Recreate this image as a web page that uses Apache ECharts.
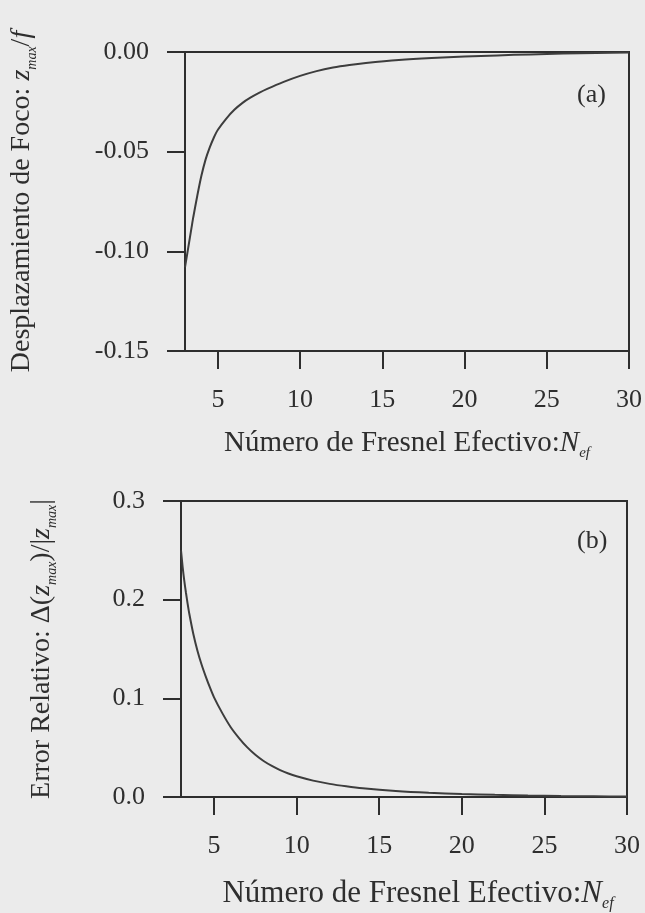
<!DOCTYPE html>
<html>
<head>
<meta charset="utf-8">
<script src="https://cdn.jsdelivr.net/npm/echarts@6/dist/echarts.min.js"></script>
<style>
html,body{margin:0;padding:0;background:#ebebeb;}
#c{width:645px;height:913px;}
</style>
</head>
<body>
<div id="c"></div>
<script>
// Panel (a): focal shift z_max/f vs effective Fresnel number
var xA = [3.0, 3.1, 3.2, 3.3, 3.4, 3.5, 3.75, 4.0, 4.25, 4.5, 4.75, 5, 5.5, 6, 6.5, 7, 7.5, 8, 9, 10, 11, 12, 13, 14, 16, 18, 20, 22, 24, 26, 28, 30];
var yA = [-0.108, -0.103, -0.098, -0.093, -0.088, -0.083, -0.072, -0.062, -0.054, -0.048, -0.043, -0.039, -0.0335, -0.029, -0.0255, -0.0228, -0.0205, -0.0185, -0.0150, -0.0120, -0.0096, -0.0078, -0.0065, -0.0055, -0.0040, -0.0030, -0.0023, -0.0017, -0.0012, -0.0008, -0.0005, -0.0003];
// Panel (b): relative error vs effective Fresnel number
var xB = [3.0, 3.1, 3.2, 3.3, 3.4, 3.5, 3.75, 4.0, 4.25, 4.5, 4.75, 5, 5.5, 6, 6.5, 7, 7.5, 8, 8.5, 9, 9.5, 10, 11, 12, 13, 14, 16, 18, 20, 22, 24, 26, 28, 30];
var yB = [0.250, 0.233, 0.219, 0.207, 0.196, 0.186, 0.165, 0.148, 0.134, 0.122, 0.111, 0.101, 0.085, 0.071, 0.060, 0.0505, 0.0428, 0.0365, 0.0315, 0.0273, 0.0238, 0.0210, 0.0166, 0.0133, 0.0108, 0.0088, 0.0061, 0.0043, 0.0031, 0.0022, 0.0015, 0.0010, 0.0007, 0.0004];
// Tick labels
var xTicks = [5, 10, 15, 20, 25, 30];
var yTicksA = [-0.15, -0.10, -0.05, 0.00];
var yTicksB = [0.0, 0.1, 0.2, 0.3];
var xTitle = 'Número de Fresnel Efectivo:';
var yTitleA = 'Desplazamiento de Foco: ';
var yTitleB = 'Error Relativo: ';
var panelLabels = ['(a)', '(b)'];

var FONT = '"Liberation Serif", "DejaVu Serif", serif';
var INK = '#2e2e2e';
var FS = 26;

function pairs(xs, ys){ return xs.map(function(x,i){ return [x, ys[i]]; }); }

function richFor(size){
  var lh = Math.round(size * 1.2);
  return {
    t: {fontFamily: FONT, fontSize: size, color: INK, lineHeight: lh},
    i: {fontFamily: FONT, fontSize: size, fontStyle: 'italic', color: INK, lineHeight: lh},
    sub: {fontFamily: FONT, fontSize: Math.round(size * 0.5), fontStyle: 'italic', color: INK, lineHeight: 12, verticalAlign: 'bottom'}
  };
}

function xAxisCfg(gi, gap, shift, size){
  return {
    gridIndex: gi, type: 'value', min: 3, max: 30,
    axisLine: {show: true, onZero: false, lineStyle: {color: INK, width: 2}},
    axisTick: {show: true, inside: false, length: 18, customValues: xTicks, lineStyle: {color: INK, width: 2}},
    axisLabel: {show: true, customValues: xTicks, margin: 36, fontFamily: FONT, fontSize: FS, color: INK},
    splitLine: {show: false},
    name: '{t|' + xTitle + '}{i|N}{sub|ef}',
    nameLocation: 'middle', nameGap: gap,
    nameTextStyle: {rich: richFor(size), padding: [0, 0, 0, shift]}
  };
}
function yAxisCfg(gi, mn, mx, step, dec, title, gap){
  return {
    gridIndex: gi, type: 'value', min: mn, max: mx, interval: step,
    axisLine: {show: true, onZero: false, lineStyle: {color: INK, width: 2}},
    axisTick: {show: true, inside: false, length: 18, lineStyle: {color: INK, width: 2}},
    axisLabel: {margin: 36, fontFamily: FONT, fontSize: FS, color: INK,
      formatter: function(v){ return v.toFixed(dec); }},
    splitLine: {show: false},
    name: title,
    nameLocation: 'middle', nameGap: gap, nameRotate: 90,
    nameTextStyle: {rich: richFor(28)}
  };
}

var chart = echarts.init(document.getElementById('c'), null, {renderer: 'canvas'});
chart.setOption({
  backgroundColor: '#ebebeb',
  animation: false,
  grid: [
    {left: 184, top: 52, width: 447, height: 299, show: true, borderColor: INK, borderWidth: 2, backgroundColor: 'transparent'},
    {left: 181, top: 501, width: 446, height: 296, show: true, borderColor: INK, borderWidth: 2, backgroundColor: 'transparent'}
  ],
  xAxis: [xAxisCfg(0, 75, 0, 29), xAxisCfg(1, 78, 28, 31)],
  yAxis: [
    yAxisCfg(0, yTicksA[0], yTicksA[3], 0.05, 2, '{t|' + yTitleA + '}{i|z}{sub|max}{t|/}{i|f}', 146),
    yAxisCfg(1, yTicksB[0], yTicksB[3], 0.1, 1, '{t|' + yTitleB + 'Δ(}{i|z}{sub|max}{t|)/|}{i|z}{sub|max}{t||}', 122)
  ],
  graphic: [
    {type: 'text', left: 577, top: 82, style: {text: panelLabels[0], font: FS + 'px ' + FONT, fill: INK}},
    {type: 'text', left: 577, top: 528, style: {text: panelLabels[1], font: FS + 'px ' + FONT, fill: INK}}
  ],
  series: [
    {type: 'line', xAxisIndex: 0, yAxisIndex: 0, data: pairs(xA, yA), showSymbol: false,
     smooth: 0.25, lineStyle: {color: '#3d3d3d', width: 2}},
    {type: 'line', xAxisIndex: 1, yAxisIndex: 1, data: pairs(xB, yB), showSymbol: false,
     smooth: 0.25, lineStyle: {color: '#3d3d3d', width: 2}}
  ]
});
</script>
</body>
</html>
